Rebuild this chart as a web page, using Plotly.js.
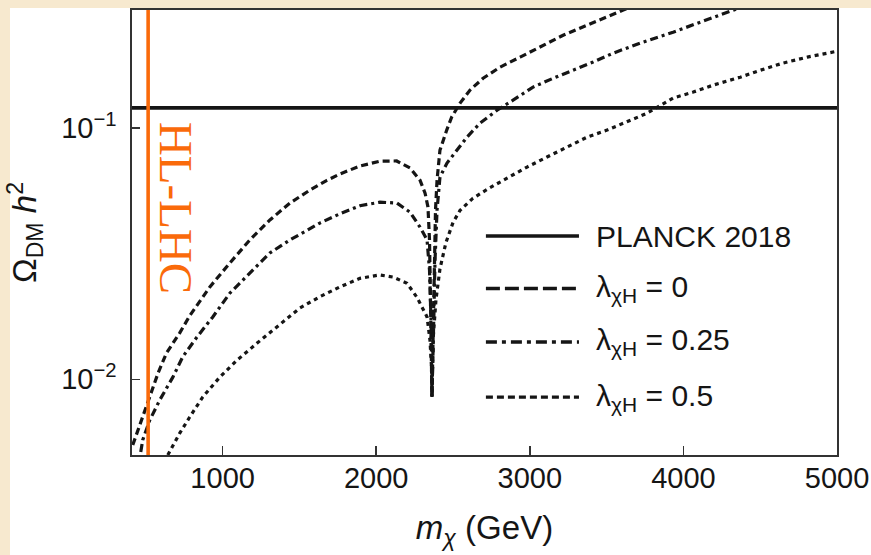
<!DOCTYPE html>
<html>
<head>
<meta charset="utf-8">
<script src="https://cdn.plot.ly/plotly-3.0.1.min.js"></script>
<style>
html,body{margin:0;padding:0;background:#ffffff;}
#chart{width:871px;height:555px;
  background:
    linear-gradient(#f7e9cf,#f7e9cf) left top / 100% 8px no-repeat,
    linear-gradient(#f7e9cf,#f7e9cf) left top / 10px 100% no-repeat,
    #ffffff;}
</style>
</head>
<body>
<div id="chart"></div>
<script>
// ---- data ----
const seriesNames = ["λ<sub>χH</sub> = 0", "λ<sub>χH</sub> = 0.25", "λ<sub>χH</sub> = 0.5"];
const planckLabel = "PLANCK 2018";
const planckOmega = 0.120;
const hlLhcMass = 515;
const hlLhcLabel = "HL-LHC";

const massL0 = [415, 460, 493, 537, 580, 634, 721, 786, 851, 917, 1047, 1177, 1308, 1438, 1568, 1679, 1764, 1894, 2024, 2133, 2220, 2285, 2318, 2337, 2347, 2354, 2360, 2363, 2370, 2376, 2386, 2396, 2415, 2459, 2491, 2546, 2611, 2696, 2806, 2937, 3067, 3217, 3373, 3503, 3608, 3720];
const omegaL0 = [0.00548, 0.00658, 0.00755, 0.00906, 0.0106, 0.0127, 0.0153, 0.0179, 0.0203, 0.0233, 0.0290, 0.0358, 0.0430, 0.0502, 0.0565, 0.0618, 0.0655, 0.0705, 0.0736, 0.0738, 0.0692, 0.0619, 0.0550, 0.0484, 0.0358, 0.0207, 0.0119, 0.0085, 0.0143, 0.0272, 0.0471, 0.0619, 0.0815, 0.0979, 0.1102, 0.1253, 0.1413, 0.1574, 0.1742, 0.191, 0.2094, 0.2333, 0.256, 0.2754, 0.2937, 0.315];

const massL25 = [467, 480, 526, 591, 676, 741, 832, 936, 1047, 1177, 1308, 1438, 1568, 1633, 1764, 1894, 2024, 2135, 2220, 2285, 2331, 2347, 2357, 2363, 2373, 2383, 2396, 2415, 2461, 2526, 2591, 2676, 2787, 2891, 3021, 3152, 3282, 3412, 3542, 3718, 3933, 4109, 4325, 4435];
const omegaL25 = [0.00514, 0.00574, 0.00689, 0.00828, 0.0102, 0.0123, 0.0147, 0.0177, 0.0220, 0.0264, 0.0318, 0.0358, 0.0399, 0.0418, 0.0455, 0.0490, 0.0506, 0.0502, 0.0462, 0.0403, 0.0358, 0.0272, 0.0172, 0.0085, 0.0157, 0.0298, 0.0471, 0.0637, 0.0724, 0.0815, 0.0918, 0.1044, 0.1175, 0.1288, 0.1451, 0.1574, 0.1694, 0.1825, 0.198, 0.217, 0.240, 0.263, 0.2937, 0.308];

const massL5 = [643, 721, 786, 871, 982, 1093, 1223, 1353, 1503, 1633, 1764, 1894, 2024, 2109, 2200, 2265, 2331, 2350, 2360, 2363, 2370, 2389, 2415, 2454, 2500, 2546, 2630, 2741, 2852, 2982, 3112, 3243, 3373, 3503, 3634, 3764, 3933, 4064, 4194, 4370, 4501, 4651, 4807, 4976, 5000];
const omegaL5 = [0.0050, 0.00611, 0.00708, 0.00851, 0.0102, 0.0119, 0.0139, 0.0161, 0.0192, 0.0213, 0.0233, 0.0252, 0.0260, 0.0255, 0.0241, 0.0212, 0.0177, 0.0143, 0.0112, 0.0085, 0.0143, 0.0207, 0.0275, 0.0350, 0.0420, 0.0470, 0.0525, 0.0578, 0.0631, 0.0698, 0.0765, 0.0838, 0.0918, 0.0979, 0.1054, 0.1143, 0.1313, 0.1387, 0.1478, 0.1589, 0.1694, 0.181, 0.191, 0.200, 0.2015];

const xTickVals = [1000, 2000, 3000, 4000, 5000];
const yTickVals = [0.01, 0.1];
const yTickText = ["10<sup>−2</sup>", "10<sup>−1</sup>"];
const xRange = [410, 5000];
const yRange = [0.005, 0.294];

// ---- styles ----
const curveDash = ["7px,4px", "8px,4px,3px,4px", "4px,4px"];
const legendDash = ["14px,5px", "11px,5px,4px,5px", "7px,4px"];
const ink = "#151515";
const orange = "#fa6a0a";
const sans = "Liberation Sans, Arial, sans-serif";

const traces = [
  {x: massL0, y: omegaL0, mode: "lines", name: seriesNames[0], line: {color: ink, width: 3.2, dash: curveDash[0]}},
  {x: massL25, y: omegaL25, mode: "lines", name: seriesNames[1], line: {color: ink, width: 3.2, dash: curveDash[1]}},
  {x: massL5, y: omegaL5, mode: "lines", name: seriesNames[2], line: {color: ink, width: 3.2, dash: curveDash[2]}},
  {x: xRange, y: [planckOmega, planckOmega], mode: "lines", name: planckLabel, line: {color: ink, width: 3.6}},
  {x: [hlLhcMass, hlLhcMass], y: [0.003, 0.5], mode: "lines", name: hlLhcLabel, line: {color: orange, width: 3.6}}
];
traces.forEach(t => { t.showlegend = false; t.hoverinfo = "skip"; });

// manual legend (samples + labels)
const legendNames = [planckLabel].concat(seriesNames);
const legendDashes = ["solid"].concat(legendDash);
const legendY = [0.492, 0.374, 0.254, 0.130];
const shapes = [];
const annotations = [];
legendNames.forEach((nm, i) => {
  shapes.push({type: "line", xref: "paper", yref: "paper", x0: 0.502, x1: 0.634, y0: legendY[i], y1: legendY[i],
    line: {color: ink, width: 3.4, dash: legendDashes[i]}});
  annotations.push({xref: "paper", yref: "paper", x: 0.655, y: legendY[i], xanchor: "left", yanchor: "middle",
    text: nm, showarrow: false, font: {family: sans, size: 30, color: ink}});
});
annotations.push({xref: "x", yref: "paper", x: hlLhcMass, xshift: 28, y: 0.555, text: hlLhcLabel, textangle: 90,
  showarrow: false, xanchor: "center", yanchor: "middle",
  font: {family: "Liberation Serif, Times New Roman, serif", size: 47, color: orange}});

const layout = {
  width: 871, height: 555,
  margin: {l: 132, r: 34, t: 10, b: 100},
  paper_bgcolor: "rgba(0,0,0,0)",
  plot_bgcolor: "#ffffff",
  showlegend: false,
  xaxis: {
    type: "linear", range: xRange, tickvals: xTickVals, ticks: "inside", ticklen: 9, tickwidth: 1.5, tickcolor: "#333",
    showline: true, mirror: true, linecolor: "#333", linewidth: 1.6, showgrid: false, zeroline: false,
    tickfont: {family: sans, size: 29, color: ink}, ticklabelstandoff: -3,
    title: {text: "<i>m</i><sub><i>χ</i></sub> (GeV)", font: {family: sans, size: 33, color: ink}, standoff: 22}
  },
  yaxis: {
    type: "log", range: [Math.log10(yRange[0]), Math.log10(yRange[1])], tickvals: yTickVals, ticktext: yTickText,
    ticks: "inside", ticklen: 8, tickwidth: 1.5, tickcolor: "#333",
    showline: true, mirror: true, linecolor: "#333", linewidth: 1.6, showgrid: false, zeroline: false,
    tickfont: {family: sans, size: 29, color: ink}, ticklabelstandoff: 8,
    title: {text: "Ω<sub>DM</sub> <i>h</i><sup>2</sup>", font: {family: sans, size: 33, color: ink}, standoff: 14}
  },
  shapes: shapes,
  annotations: annotations
};

Plotly.newPlot("chart", traces, layout, {staticPlot: true, displayModeBar: false});
</script>
</body>
</html>
